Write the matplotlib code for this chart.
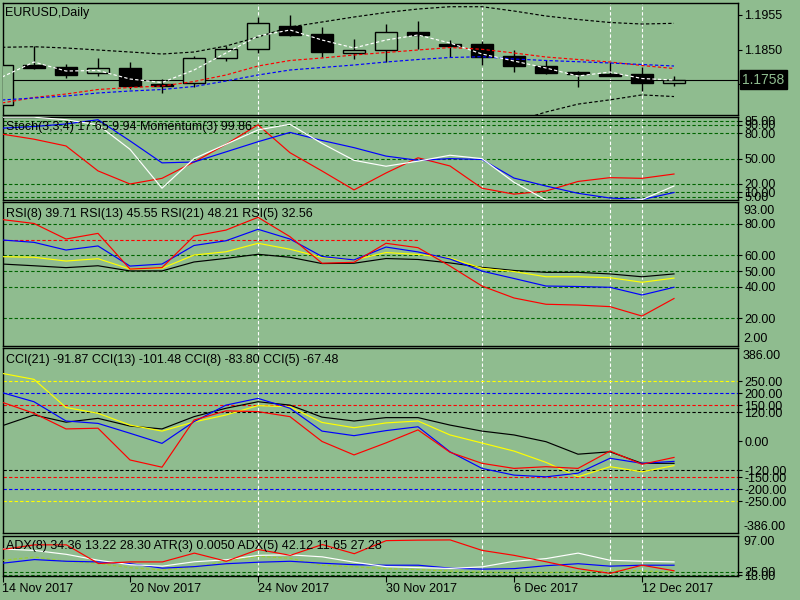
import matplotlib
matplotlib.use('Agg')
import matplotlib.pyplot as plt
import numpy as np

plt.rcParams['font.family'] = ['Liberation Sans', 'DejaVu Sans']
plt.rcParams['lines.scale_dashes'] = False

# ---------------- data ----------------
dates = ['14 Nov 2017', '15 Nov 2017', '16 Nov 2017', '17 Nov 2017', '20 Nov 2017',
         '21 Nov 2017', '22 Nov 2017', '23 Nov 2017', '24 Nov 2017', '27 Nov 2017',
         '28 Nov 2017', '29 Nov 2017', '30 Nov 2017', '1 Dec 2017', '4 Dec 2017',
         '5 Dec 2017', '6 Dec 2017', '7 Dec 2017', '8 Dec 2017', '11 Dec 2017',
         '12 Dec 2017', '13 Dec 2017']
date_ticks = ['14 Nov 2017', '20 Nov 2017', '24 Nov 2017', '30 Nov 2017', '6 Dec 2017', '12 Dec 2017']
marker_dates = ['24 Nov 2017', '5 Dec 2017', '11 Dec 2017', '12 Dec 2017']

opens = [1.1680, 1.1802, 1.1796, 1.1778, 1.1794, 1.1745, 1.1747, 1.1823, 1.1851, 1.1921, 1.1897,
         1.1840, 1.1849, 1.1902, 1.1868, 1.1867, 1.1830, 1.1800, 1.1783, 1.1776, 1.1776, 1.1747]
highs = [1.1806, 1.1861, 1.1806, 1.1823, 1.1812, 1.1760, 1.1830, 1.1861, 1.1949, 1.1955, 1.1918,
         1.1881, 1.1928, 1.1937, 1.1879, 1.1876, 1.1849, 1.1818, 1.1784, 1.1813, 1.1798, 1.1769]
lows = [1.1672, 1.1790, 1.1763, 1.1770, 1.1731, 1.1719, 1.1737, 1.1815, 1.1838, 1.1891, 1.1828,
        1.1820, 1.1811, 1.1851, 1.1828, 1.1803, 1.1783, 1.1776, 1.1737, 1.1770, 1.1725, 1.1739]
closes = [1.1802, 1.1795, 1.1773, 1.1793, 1.1740, 1.1739, 1.1823, 1.1851, 1.1930, 1.1895, 1.1843,
          1.1848, 1.1902, 1.1895, 1.1862, 1.1828, 1.1800, 1.1778, 1.1776, 1.1770, 1.1749, 1.1758]
last_price = 1.1758
price_ticks = [1.1955, 1.1850, 1.1745]

band_upper = [1.18567, 1.18585, 1.18546, 1.18485, 1.18424, 1.18363, 1.18424, 1.18606, 1.18880, 1.19184, 1.19336,
              1.19488, 1.19625, 1.19731, 1.19801, 1.19801, 1.19670, 1.19518, 1.19412, 1.19321, 1.19275, 1.19296]
band_lower = [1.1583, 1.1581, 1.1590, 1.1601, 1.1612, 1.1620, 1.1617, 1.1604, 1.1590, 1.1574, 1.1568,
              1.1565, 1.1563, 1.1565, 1.1574, 1.1590, 1.1630, 1.1660, 1.1684, 1.1697, 1.1712, 1.1707]
ma_white = [1.17664, 1.18120, 1.17846, 1.17862, 1.17603, 1.17497, 1.17877, 1.18394, 1.18910, 1.19093, 1.18789,
            1.18546, 1.18789, 1.18941, 1.18698, 1.18363, 1.18150, 1.17938, 1.17694, 1.17816, 1.17618, 1.17573]
ma_red = [1.16874, 1.17041, 1.17147, 1.17284, 1.17345, 1.17390, 1.17527, 1.17725, 1.17998, 1.18166, 1.18242,
          1.18333, 1.18409, 1.18485, 1.18561, 1.18506, 1.18394, 1.18272, 1.18196, 1.18120, 1.18014, 1.17922]
ma_blue = [1.16965, 1.17026, 1.17086, 1.17178, 1.17238, 1.17284, 1.17375, 1.17542, 1.17725, 1.17877, 1.17953,
           1.18029, 1.18120, 1.18196, 1.18257, 1.18281, 1.18211, 1.18166, 1.18129, 1.18090, 1.18044, 1.17998]

stoch_main = [99, 99, 96, 90, 61, 15, 50, 67, 84, 90.6, 68, 48, 41, 47, 54, 50, 22, 1, 0, 0, 1.5, 17.65]
stoch_signal = [86, 88, 91, 96, 71, 45, 46, 58, 70, 81, 71.5, 63, 53, 48, 50, 49, 27, 17.6, 9, 3.4, 1.6, 9.94]
momentum = [79, 73, 65, 35.5, 20, 26.7, 46, 67, 90, 57, 35.4, 13, 33, 51, 41.3, 15, 8, 11.7, 23, 27.5, 26.7, 31.8]
stoch_levels = [95, 90, 80, 50, 20, 10, 5]

rsi5 = [82.8, 80.3, 70.4, 74, 51.3, 52.2, 72.3, 76.1, 84.2, 71.9, 55, 55.6, 67.7, 64.9, 53.2, 40.5, 32.9,
        28.9, 28.4, 27.4, 21.4, 32.56]
rsi8 = [69.8, 68.3, 63.4, 66, 53.2, 54.5, 66.3, 69.3, 76.6, 70.4, 59.3, 57.1, 65.3, 62.2, 57.7, 50, 45.3,
        40.5, 40.2, 39.7, 34.8, 39.71]
rsi13 = [59.2, 58.8, 56.4, 57.9, 51.3, 51.8, 60.2, 62.3, 67.7, 63.9, 58.7, 57.1, 61.8, 60.6, 58.3, 51.8, 49.7,
         46.4, 46.4, 45.8, 42.9, 45.55]
rsi21 = [54.5, 53.4, 52.2, 53.4, 50.1, 50.1, 55.8, 58.1, 60.7, 58.8, 54.8, 55, 58, 57.4, 55.2, 52.4, 50.4,
         49.2, 49.2, 48.2, 46.4, 48.21]
rsi_levels = [80, 60, 50, 40, 20]
rsi_red_level = 70

cci5 = [162, 116, 51, 54, -78, -108, 88, 126, 123, 102, -1, -57, -7, 47, -46, -92, -113, -106, -113, -41, -96, -67.48]
cci8 = [202, 164, 84, 74, 33, -9, 81, 150, 178, 137, 42, 23, 44, 60, -44, -113, -141, -148, -133, -71, -92, -83.80]
cci13 = [282, 257, 140, 116, 67, 42, 80, 109, 148, 143, 78, 56, 76, 84, 26, -7.5, -41, -88, -148, -106, -127, -101.48]
cci21 = [64, 109, 79, 95, 63, 51, 102, 137, 164, 150, 100, 84, 98, 98, 67, 42, 26, -2, -54, -44, -92, -91.87]
cci_levels = [(250, '#FFFF00'), (200, '#0000FF'), (150, '#FF0000'), (120, '#000000')]

adx_red = [69.3, 78.6, 78.6, 41.1, 44.3, 44.3, 62, 45.6, 69.3, 57.5, 79.2, 60.8, 87.1, 88.1, 88.5, 67.4,
           57.5, 44.6, 30.8, 21.3, 37.7, 26.5]
adx_white = [70.3, 67.4, 59.5, 47.6, 38.7, 35.8, 44.6, 48.6, 57.5, 58.5, 54.5, 43.7, 34.8, 32.8, 31.2, 34.4,
             45.6, 51, 62, 47.6, 45.6, 44.3]
adx_blue = [41.7, 49, 45.6, 44.3, 40.7, 31.8, 34.8, 40.7, 43.7, 45.6, 41.7, 38.7, 37.7, 37.7, 31.8, 29.8,
            30.8, 36.7, 40.7, 35.8, 37.7, 37.7]
adx_green = [47.6, 54.1, 45.6, 41.1, 32.8, 27.9, 33.8, 45.6, 55.5, 51.6, 37.7, 34.4, 30.8, 28.8, 25.9, 23.9,
             22.5, 22.9, 24.5, 27.9, 25.9, 24.5]
adx_levels = [18, 25]

# ---------------- style ----------------
BG = '#8FBC8F'
GRID = '#006400'
DASH = (0, (2.4, 1.6))
FS = 9
LW = 0.85

W, H = 800, 600
LEFT_PX, RIGHT_PX = 2.5, 738
fig = plt.figure(figsize=(8, 6), dpi=100, facecolor=BG)

x = np.arange(len(dates))
xlim = ((LEFT_PX - 2) / 32.0, (RIGHT_PX - 2) / 32.0)
marker_idx = [dates.index(d) for d in marker_dates]
tick_idx = [dates.index(d) for d in date_ticks]


def panel(top, bottom, ylim):
    ax = fig.add_axes([LEFT_PX / W, 1 - bottom / H, (RIGHT_PX - LEFT_PX) / W, (bottom - top) / H],
                      facecolor=BG)
    ax.set_xlim(*xlim)
    ax.set_ylim(*ylim)
    for s in ax.spines.values():
        s.set_color('black')
        s.set_linewidth(1.0)
    ax.yaxis.tick_right()
    ax.tick_params(axis='y', direction='out', length=3, width=0.8, pad=1.5, labelsize=FS, colors='black')
    ax.tick_params(axis='x', bottom=False, labelbottom=False)
    for m in marker_idx:
        ax.axvline(m, color='white', lw=0.8, ls=DASH, zorder=1)
    return ax


def title(ax, txt, dy=-11):
    ax.annotate(txt, xy=(0, 1), xycoords='axes fraction', xytext=(3, dy), textcoords='offset pixels',
                va='center', ha='left', fontsize=FS, color='black', zorder=20)


def edge_label(ax, txt, top=True, dy=0):
    ax.annotate(txt, xy=(1, 1 if top else 0), xycoords='axes fraction', xytext=(5, dy),
                textcoords='offset pixels', va='center', ha='left', fontsize=FS, color='black',
                annotation_clip=False)


# ---------------- main price panel ----------------
ax = panel(2.7, 115, (1.16509, 1.19923))
ax.set_yticks(price_ticks)
ax.set_yticklabels(['%.4f' % p for p in price_ticks])
o, h, l, c = map(np.array, (opens, highs, lows, closes))
ax.vlines(x, l, h, color='black', lw=1.0, zorder=3)
bull = c >= o
ax.bar(x[bull], (c - o)[bull], bottom=o[bull], width=0.69, facecolor=BG, edgecolor='black', lw=1.0, zorder=4)
ax.bar(x[~bull], (o - c)[~bull], bottom=c[~bull], width=0.69, facecolor='black', edgecolor='black', lw=1.0, zorder=4)
ax.plot(x, band_upper, color='black', lw=LW, ls=DASH, zorder=5)
ax.plot(x, band_lower, color='black', lw=LW, ls=DASH, zorder=5)
ax.plot(x, ma_red, color='#FF0000', lw=LW, ls=DASH, zorder=5)
ax.plot(x, ma_blue, color='#0000FF', lw=LW, ls=DASH, zorder=5)
ax.plot(x, ma_white, color='white', lw=LW, ls=DASH, zorder=6)
ax.axhline(last_price, color='black', lw=0.8, zorder=2)
ax.annotate('%.4f' % last_price, xy=(1, last_price), xycoords=('axes fraction', 'data'), xytext=(4, 0),
            textcoords='offset pixels', va='center', ha='left', fontsize=10, color=BG, zorder=30,
            bbox=dict(boxstyle='square,pad=0.18', fc='black', ec='black'), annotation_clip=False)
title(ax, 'EURUSD,Daily', dy=-10)

# ---------------- stochastic panel ----------------
ax = panel(116.7, 199.5, (1.66, 99.6))
for lv in stoch_levels:
    ax.axhline(lv, color=GRID, lw=0.8, ls=DASH, zorder=1)
ax.set_yticks(stoch_levels)
ax.set_yticklabels(['%.2f' % v for v in stoch_levels])
ax.plot(x, momentum, color='#FF0000', lw=LW, zorder=3)
ax.plot(x, stoch_signal, color='#0000FF', lw=LW, zorder=3)
ax.plot(x, stoch_main, color='white', lw=LW, zorder=4)
title(ax, 'Stoch(3,3,4) %.2f %.2f Momentum(3) %.2f' % (stoch_main[-1], stoch_signal[-1], 99.86), dy=-10)

# ---------------- RSI panel ----------------
ax = panel(202, 345.7, (2.54, 93.96))
for lv in rsi_levels:
    ax.axhline(lv, color=GRID, lw=0.8, ls=DASH, zorder=1)
ax.hlines(rsi_red_level, xlim[0], 13, color='#FF0000', lw=0.8, ls=DASH, zorder=1)
ax.set_yticks(rsi_levels)
ax.set_yticklabels(['%.2f' % v for v in rsi_levels])
edge_label(ax, '93.00', top=True, dy=-8.5)
edge_label(ax, '2.00', top=False, dy=6.5)
ax.plot(x, rsi21, color='black', lw=LW, zorder=3)
ax.plot(x, rsi13, color='#FFFF00', lw=LW, zorder=3)
ax.plot(x, rsi8, color='#0000FF', lw=LW, zorder=3)
ax.plot(x, rsi5, color='#FF0000', lw=LW, zorder=4)
title(ax, 'RSI(8) %.2f RSI(13) %.2f RSI(21) %.2f RSI(5) %.2f' % (rsi8[-1], rsi13[-1], rsi21[-1], rsi5[-1]), dy=-12)

# ---------------- CCI panel ----------------
ax = panel(348.3, 533, (-381.5, 386.1))
cci_ticks = []
for lv, col in cci_levels:
    ax.axhline(lv, color=col, lw=0.8, ls=DASH, zorder=1)
    ax.axhline(-lv, color=col, lw=0.8, ls=DASH, zorder=1)
    cci_ticks += [lv, -lv]
cci_ticks = sorted(cci_ticks + [0])
ax.set_yticks(cci_ticks)
ax.set_yticklabels(['%.2f' % v for v in cci_ticks])
edge_label(ax, '386.00', top=True, dy=-7.5)
edge_label(ax, '-386.00', top=False, dy=6.5)
ax.plot(x, cci21, color='black', lw=LW, zorder=3)
ax.plot(x, cci13, color='#FFFF00', lw=LW, zorder=3)
ax.plot(x, cci8, color='#0000FF', lw=LW, zorder=3)
ax.plot(x, cci5, color='#FF0000', lw=LW, zorder=4)
title(ax, 'CCI(21) %.2f CCI(13) %.2f CCI(8) %.2f CCI(5) %.2f' % (cci21[-1], cci13[-1], cci8[-1], cci5[-1]), dy=-12)

# ---------------- ADX / ATR panel ----------------
ax = panel(535.7, 576, (16, 97))
for lv in adx_levels:
    ax.axhline(lv, color=GRID, lw=0.8, ls=DASH, zorder=1)
ax.set_yticks(adx_levels)
ax.set_yticklabels(['%.2f' % v for v in adx_levels])
edge_label(ax, '97.00', top=True, dy=-6.5)
ax.plot(x, adx_green, color='#9ACD32', lw=LW, ls=DASH, zorder=3)
ax.plot(x, adx_blue, color='#0000FF', lw=LW, zorder=3)
ax.plot(x, adx_white, color='white', lw=LW, zorder=4)
ax.plot(x, adx_red, color='#FF0000', lw=LW, zorder=5)
title(ax, 'ADX(8) 34.36 13.22 28.30 ATR(3) 0.0050 ADX(5) 42.12 11.65 27.28', dy=-10)
ax.tick_params(axis='x', bottom=True, labelbottom=True, direction='out', length=4, width=0.8,
               pad=1, labelsize=FS, colors='black')
ax.set_xticks(tick_idx)
ax.set_xticklabels(date_ticks, ha='left')

fig.savefig('out.png', dpi=100, facecolor=BG)
